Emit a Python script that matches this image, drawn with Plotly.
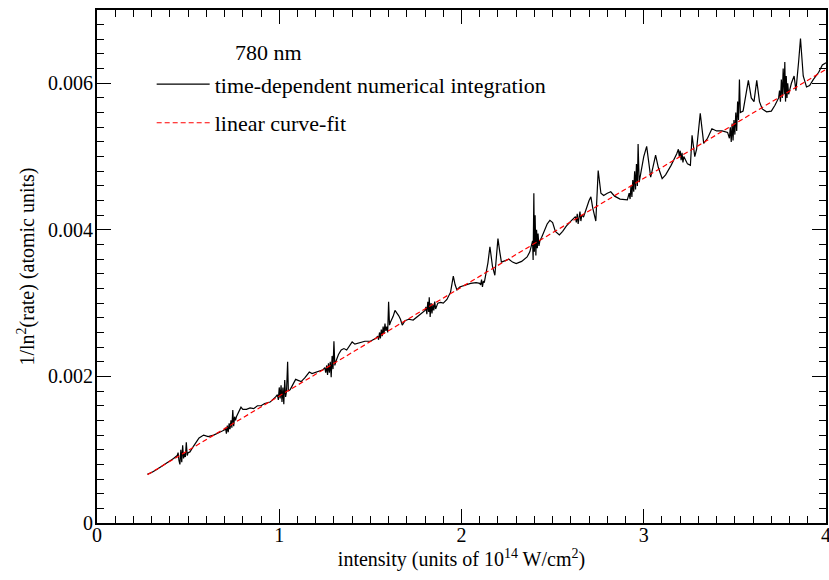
import plotly.graph_objects as go

# Time-dependent numerical integration curve (x: intensity in 1e14 W/cm^2, y: 1/ln^2(rate))
tdse_x = [
    0.276, 0.30, 0.33, 0.36, 0.39, 0.42, 0.44,
    0.445, 0.450, 0.455, 0.460, 0.465, 0.470, 0.475, 0.480, 0.485, 0.490, 0.495, 0.500, 0.51,
    0.53, 0.56, 0.585, 0.61, 0.64, 0.67, 0.70,
    0.705, 0.71, 0.715, 0.72, 0.725, 0.73, 0.735, 0.74, 0.745, 0.75, 0.755, 0.76, 0.765,
    0.78, 0.79, 0.80, 0.82, 0.84, 0.86, 0.88, 0.90, 0.92, 0.95, 0.98,
    0.990, 0.995, 1.000, 1.005, 1.010, 1.015, 1.020, 1.025, 1.030, 1.035, 1.040, 1.046, 1.050,
    1.06, 1.075, 1.09, 1.10, 1.12, 1.14, 1.165, 1.18, 1.20, 1.22, 1.24,
    1.250, 1.255, 1.260, 1.265, 1.270, 1.275, 1.280, 1.285, 1.290, 1.295, 1.300, 1.305,
    1.31, 1.325, 1.34, 1.355, 1.37, 1.385, 1.40, 1.415, 1.43, 1.45, 1.47, 1.50, 1.52, 1.53,
    1.540, 1.545, 1.550, 1.555, 1.560, 1.565, 1.570, 1.575, 1.580, 1.585, 1.590, 1.595, 1.600, 1.605,
    1.61, 1.625, 1.635, 1.645, 1.655, 1.665, 1.675, 1.69, 1.71, 1.735, 1.76, 1.78, 1.80,
    1.805, 1.810, 1.815, 1.820, 1.823, 1.828, 1.833, 1.838, 1.843, 1.848, 1.853, 1.858,
    1.87, 1.885, 1.90, 1.92, 1.94, 1.955, 1.965, 1.975, 1.99, 2.02, 2.05, 2.08, 2.10,
    2.105, 2.110, 2.115, 2.120, 2.125, 2.13, 2.145, 2.156, 2.17, 2.183, 2.19, 2.20, 2.21, 2.219,
    2.24, 2.26, 2.28, 2.30, 2.33, 2.36, 2.375, 2.385,
    2.390, 2.393, 2.397, 2.400, 2.404, 2.408, 2.412, 2.416, 2.420, 2.425,
    2.43, 2.44, 2.456, 2.47, 2.485, 2.50, 2.515, 2.537, 2.555, 2.575, 2.60, 2.62,
    2.625, 2.630, 2.635, 2.640, 2.645, 2.650, 2.655, 2.660, 2.67,
    2.685, 2.70, 2.71, 2.72, 2.737, 2.745, 2.750, 2.765, 2.78, 2.80, 2.819, 2.84, 2.87, 2.91,
    2.920, 2.925, 2.930, 2.935, 2.940, 2.945, 2.950, 2.955, 2.960, 2.965, 2.969, 2.975,
    2.98, 2.99, 3.00, 3.016, 3.03, 3.038, 3.05, 3.065, 3.08, 3.101, 3.12, 3.15, 3.181,
    3.190, 3.195, 3.200, 3.205, 3.210, 3.215, 3.220, 3.230, 3.240, 3.256, 3.265,
    3.28, 3.29, 3.31, 3.329, 3.35, 3.374, 3.40, 3.43, 3.46,
    3.470, 3.475, 3.480, 3.485, 3.490, 3.495, 3.500, 3.505, 3.510, 3.515, 3.520, 3.525, 3.53,
    3.545, 3.56, 3.574, 3.59, 3.605, 3.62, 3.635, 3.65, 3.674, 3.70, 3.72, 3.74,
    3.745, 3.750, 3.755, 3.760, 3.765, 3.770, 3.774, 3.778, 3.782, 3.786, 3.790, 3.795,
    3.81, 3.825, 3.835, 3.85, 3.86, 3.875, 3.893, 3.91, 3.93, 3.96, 3.98, 4.00,
]

tdse_y_milli = [
    0.665, 0.69, 0.735, 0.78, 0.83, 0.88, 0.92,
    0.96, 0.85, 0.80, 1.00, 0.83, 1.06, 0.88, 0.95, 0.90, 1.10, 0.92, 0.96, 0.97,
    1.05, 1.16, 1.20, 1.18, 1.20, 1.23, 1.27,
    1.30, 1.22, 1.33, 1.24, 1.36, 1.28, 1.40, 1.30, 1.54, 1.32, 1.45, 1.40, 1.45,
    1.52, 1.58, 1.55, 1.55, 1.57, 1.56, 1.60, 1.60, 1.63, 1.65, 1.72,
    1.75, 1.68, 1.85, 1.70, 1.88, 1.65, 1.85, 1.62, 1.95, 1.72, 1.80, 2.20, 1.80,
    1.82, 1.90, 1.96, 1.95, 1.93, 1.98, 2.06, 2.04, 2.06, 2.07, 2.09,
    2.12, 2.05, 2.15, 2.02, 2.18, 2.05, 2.20, 1.99, 2.28, 2.10, 2.48, 2.15,
    2.20, 2.30, 2.36, 2.38, 2.36, 2.42, 2.47, 2.44, 2.45, 2.46, 2.48, 2.48, 2.50, 2.52,
    2.55, 2.50, 2.60, 2.52, 2.64, 2.55, 2.68, 2.58, 2.72, 2.62, 2.68, 2.60, 3.02, 2.70,
    2.74, 2.82, 2.90, 2.87, 2.83, 2.78, 2.70, 2.76, 2.78, 2.77, 2.82, 2.87, 2.90,
    2.95, 2.85, 3.02, 2.88, 3.08, 2.81, 3.00, 2.86, 2.98, 2.90, 3.02, 2.92,
    3.00, 3.01, 3.00, 3.05, 3.15, 3.37, 3.25, 3.18, 3.22, 3.25, 3.27, 3.28, 3.27,
    3.25, 3.32, 3.22, 3.30, 3.28, 3.35, 3.55, 3.77, 3.50, 3.38, 3.55, 3.88, 3.70, 3.56,
    3.58, 3.60, 3.56, 3.54, 3.57, 3.63, 3.70, 3.78,
    3.85, 3.59, 4.50, 3.70, 4.20, 3.65, 4.00, 3.75, 3.95, 3.78,
    3.85, 3.90, 3.99, 4.08, 4.13, 4.10, 3.98, 3.93, 3.98, 4.05, 4.12, 4.16,
    4.18, 4.10, 4.22, 4.08, 4.20, 4.25, 4.12, 4.20, 4.18,
    4.30, 4.40, 4.45, 4.30, 4.12, 4.50, 4.81, 4.50, 4.47, 4.50, 4.52, 4.46, 4.42, 4.41,
    4.50, 4.42, 4.60, 4.45, 4.68, 4.52, 4.80, 4.55, 4.90, 4.60, 5.17, 4.65,
    4.72, 4.90, 5.00, 5.14, 4.90, 4.72, 4.85, 5.02, 4.85, 4.70, 4.75, 4.88, 5.04,
    5.10, 5.00, 5.08, 4.95, 5.05, 4.92, 5.00, 4.95, 4.90, 4.88, 5.29,
    5.00, 5.10, 5.59, 5.18, 5.25, 5.38, 5.35, 5.35, 5.33,
    5.25, 5.40, 5.20, 5.45, 5.22, 5.50, 5.30, 5.60, 5.35, 5.75, 5.50, 6.05, 5.60,
    5.62, 5.85, 6.04, 5.80, 5.75, 6.04, 5.75, 5.65, 5.61, 5.62, 5.70, 5.80,
    5.90, 5.75, 6.05, 5.80, 6.20, 5.85, 6.29, 5.75, 6.10, 5.80, 6.00, 5.85,
    6.00, 6.10, 5.90, 6.30, 6.61, 6.10, 5.95, 5.97, 6.05, 6.15, 6.25, 6.28,
]
tdse_y = [v * 1e-3 for v in tdse_y_milli]

# Linear curve-fit end points
fit_x = [0.278, 4.0]
fit_y = [0.00066, 0.00619]

x_range = [0, 4]
y_range = [0, 0.007]
x_tick_vals = [0, 1, 2, 3, 4]
x_tick_text = ["0", "1", "2", "3", "4"]
y_tick_vals = [0, 0.002, 0.004, 0.006]
y_tick_text = ["0", "0.002", "0.004", "0.006"]

FONT = "Liberation Serif"

fig = go.Figure()
fig.add_trace(go.Scatter(
    x=tdse_x, y=tdse_y, mode="lines",
    line=dict(color="black", width=1.2),
    name="time-dependent numerical integration",
    legendgroup="a",
))
fig.add_trace(go.Scatter(
    x=fit_x, y=fit_y, mode="lines",
    line=dict(color="#ff0000", width=1.2, dash="5px,3px"),
    name="linear curve-fit",
    legendgroup="b",
))
# empty trace to activate the mirrored (top/right) tick axes
fig.add_trace(go.Scatter(x=[], y=[], xaxis="x2", yaxis="y2", showlegend=False, hoverinfo="skip"))

tick_common = dict(
    ticks="inside", ticklen=14, tickwidth=1.3, tickcolor="black",
    showgrid=False, zeroline=False,
)
x_minor = dict(dtick=0.1, ticks="inside", ticklen=7, tickwidth=1.1, tickcolor="black", showgrid=False)
y_minor = dict(dtick=0.0002, ticks="inside", ticklen=7, tickwidth=1.1, tickcolor="black", showgrid=False)

fig.update_layout(
    xaxis=dict(
        range=x_range, tickvals=x_tick_vals, ticktext=x_tick_text, minor=x_minor,
        showline=True, linecolor="black", linewidth=2, mirror=True,
        tickfont=dict(family=FONT, size=20, color="black"),
        ticklabelstandoff=-7, ticklabeloverflow="allow", automargin=False,
        title=dict(text="intensity (units of 10<sup>14</sup> W/cm<sup>2</sup>)",
                   font=dict(family=FONT, size=20, color="black"), standoff=6),
        **tick_common,
    ),
    yaxis=dict(
        range=y_range, tickvals=y_tick_vals, ticktext=y_tick_text, minor=y_minor,
        showline=True, linecolor="black", linewidth=2, mirror=True,
        tickfont=dict(family=FONT, size=20, color="black"),
        ticklabelstandoff=-2, ticklabeloverflow="allow",
        title=dict(text="1/ln<sup>2</sup>(rate) (atomic units)",
                   font=dict(family=FONT, size=20, color="black"), standoff=8),
        **tick_common,
    ),
    xaxis2=dict(
        overlaying="x", anchor="y", side="top", range=x_range, automargin=False,
        tickvals=x_tick_vals, minor=x_minor, showticklabels=False, showline=False,
        **tick_common,
    ),
    yaxis2=dict(
        overlaying="y", anchor="x", side="right", range=y_range, automargin=False,
        tickvals=y_tick_vals, minor=y_minor, showticklabels=False, showline=False,
        **tick_common,
    ),
)

fig.add_annotation(
    text="780 nm", xref="paper", yref="paper", x=0.186, y=0.918,
    xanchor="left", yanchor="middle", showarrow=False,
    font=dict(family=FONT, size=22, color="black"),
)

fig.update_layout(
    width=829, height=580,
    margin=dict(l=97, r=1, t=10, b=57),
    paper_bgcolor="white", plot_bgcolor="white",
    showlegend=True,
    legend=dict(
        x=0.075, y=0.896, xanchor="left", yanchor="top",
        bgcolor="rgba(0,0,0,0)", borderwidth=0,
        font=dict(family=FONT, size=22, color="black"),
        itemwidth=53, tracegroupgap=7,
    ),
)

fig.write_html("out.html", config={"displayModeBar": False},
               post_script="document.body.style.margin='0px';")
